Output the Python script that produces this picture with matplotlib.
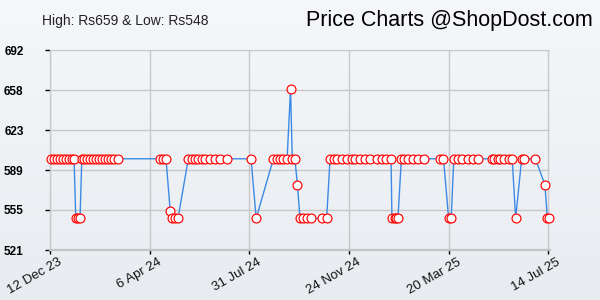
import matplotlib
matplotlib.use('Agg')
import matplotlib.pyplot as plt
import matplotlib.dates as mdates
import matplotlib.transforms as mtransforms
import numpy as np
import datetime as dt

plt.rcParams['font.family'] = ['Liberation Sans', 'DejaVu Sans']

# Lịch sử giá (ngày, giá Rs)
dates = [
    '2023-12-13', '2023-12-17', '2023-12-20', '2023-12-24', '2023-12-27', '2023-12-31',
    '2024-01-03', '2024-01-07', '2024-01-09',
    '2024-01-11', '2024-01-14', '2024-01-16',
    '2024-01-18', '2024-01-21', '2024-01-24', '2024-01-28', '2024-01-31', '2024-02-04',
    '2024-02-07', '2024-02-11', '2024-02-14', '2024-02-18', '2024-02-21', '2024-02-25',
    '2024-02-29',
    '2024-04-18', '2024-04-22', '2024-04-25', '2024-04-30',
    '2024-05-02', '2024-05-06', '2024-05-09',
    '2024-05-21', '2024-05-25', '2024-05-29', '2024-06-01', '2024-06-06', '2024-06-10',
    '2024-06-15', '2024-06-21', '2024-06-27', '2024-07-05',
    '2024-08-02', '2024-08-08',
    '2024-08-28', '2024-09-01', '2024-09-05', '2024-09-08', '2024-09-13',
    '2024-09-17', '2024-09-19', '2024-09-22', '2024-09-25',
    '2024-09-28', '2024-10-02', '2024-10-06', '2024-10-11', '2024-10-24', '2024-10-29',
    '2024-11-02', '2024-11-06', '2024-11-10', '2024-11-16', '2024-11-22', '2024-11-27',
    '2024-12-01', '2024-12-07', '2024-12-13', '2024-12-19', '2024-12-27', '2025-01-02',
    '2025-01-06', '2025-01-12',
    '2025-01-13', '2025-01-16', '2025-01-18', '2025-01-20',
    '2025-01-24', '2025-01-27', '2025-02-01', '2025-02-07', '2025-02-12', '2025-02-19',
    '2025-03-10', '2025-03-14',
    '2025-03-20', '2025-03-23',
    '2025-03-26', '2025-03-31', '2025-04-05', '2025-04-11', '2025-04-17', '2025-04-23',
    '2025-05-09', '2025-05-12', '2025-05-16', '2025-05-19', '2025-05-24', '2025-05-29',
    '2025-06-02',
    '2025-06-06',
    '2025-06-13', '2025-06-16', '2025-06-29',
    '2025-07-10', '2025-07-13', '2025-07-15',
]
prices = [
    599, 599, 599, 599, 599, 599,
    599, 599, 599,
    548, 548, 548,
    599, 599, 599, 599, 599, 599,
    599, 599, 599, 599, 599, 599,
    599,
    599, 599, 599, 554,
    548, 548, 548,
    599, 599, 599, 599, 599, 599,
    599, 599, 599, 599,
    599, 548,
    599, 599, 599, 599, 599,
    659, 599, 599, 577,
    548, 548, 548, 548, 548, 548,
    599, 599, 599, 599, 599, 599,
    599, 599, 599, 599, 599, 599,
    599, 599,
    548, 548, 548, 548,
    599, 599, 599, 599, 599, 599,
    599, 599,
    548, 548,
    599, 599, 599, 599, 599, 599,
    599, 599, 599, 599, 599, 599,
    599,
    548,
    599, 599, 599,
    577, 548, 548,
]

tick_dates = ['2023-12-12', '2024-04-06', '2024-07-31', '2024-11-24', '2025-03-20', '2025-07-14']
tick_labels = ['12 Dec 23', '6 Apr 24', '31 Jul 24', '24 Nov 24', '20 Mar 25', '14 Jul 25']
y_min, y_max = 521, 692
y_labels = ['521', '555', '589', '623', '658', '692']

def to_num(s):
    return mdates.date2num(dt.datetime.strptime(s, '%Y-%m-%d'))

x = [to_num(d) for d in dates]
xt = [to_num(d) for d in tick_dates]

fig = plt.figure(figsize=(6, 3), dpi=100)

# nền gradient nhạt
bg = fig.add_axes([0, 0, 1, 1], zorder=-10)
grad = np.linspace(0, 1, 256).reshape(-1, 1)
top = np.array([0.961, 0.969, 0.980])
bot = np.array([0.910, 0.925, 0.941])
img = top[None, None, :] * (1 - grad[:, :, None]) + bot[None, None, :] * grad[:, :, None]
bg.imshow(img, aspect='auto', extent=[0, 1, 0, 1])
bg.axis('off')

ax = fig.add_axes([50 / 600, 50 / 300, 500 / 600, 200 / 300])
ax.set_facecolor('none')

ax.plot(x, prices, color='#3d8ae6', linewidth=1.0, zorder=3)
ax.plot(x, prices, linestyle='none', marker='o', markersize=6.4,
        markerfacecolor='white', markeredgecolor='#ff0000', markeredgewidth=0.85,
        zorder=4, clip_on=False)

ax.set_xlim(xt[0], xt[0] + 582)
ax.set_ylim(y_min, y_max)

# nhãn trục x tự vẽ, xoay 30 độ
ax.set_xticks(xt)
ax.set_xticklabels([])
trans = ax.get_xaxis_transform() + mtransforms.ScaledTranslation(8 / 100, -6 / 100, fig.dpi_scale_trans)
for xv, lab in zip(xt, tick_labels):
    ax.text(xv, 0, lab, transform=trans, rotation=30, rotation_mode='anchor',
            ha='right', va='top', fontsize=9.5, color='#111111', clip_on=False)

yt = np.linspace(y_min, y_max, 6)
ax.set_yticks(yt)
ax.set_yticklabels(y_labels, fontsize=8.5, fontweight='bold', color='black')

ax.tick_params(axis='x', direction='out', length=3, width=1, color='black')
ax.tick_params(axis='y', direction='out', length=3.5, width=1, color='black', pad=15.5)

ax.grid(True, color='#c8c8c8', linewidth=1.0, zorder=0)
ax.set_axisbelow(True)
for side in ['top', 'right']:
    ax.spines[side].set_visible(False)
ax.spines['left'].set_color('#c8c8c8')
ax.spines['left'].set_linewidth(1.0)
ax.spines['bottom'].set_color('#c4c4c4')
ax.spines['bottom'].set_linewidth(1.6)

fig.text(42 / 600, 1 - 25.5 / 300, 'High: Rs659 & Low: Rs548', fontsize=10,
         color='#222222', ha='left', va='baseline')
fig.text(593 / 600, 1 - 26 / 300, 'Price Charts @ShopDost.com', fontsize=15.5,
         color='black', ha='right', va='baseline')

fig.savefig('out.png', dpi=100)
